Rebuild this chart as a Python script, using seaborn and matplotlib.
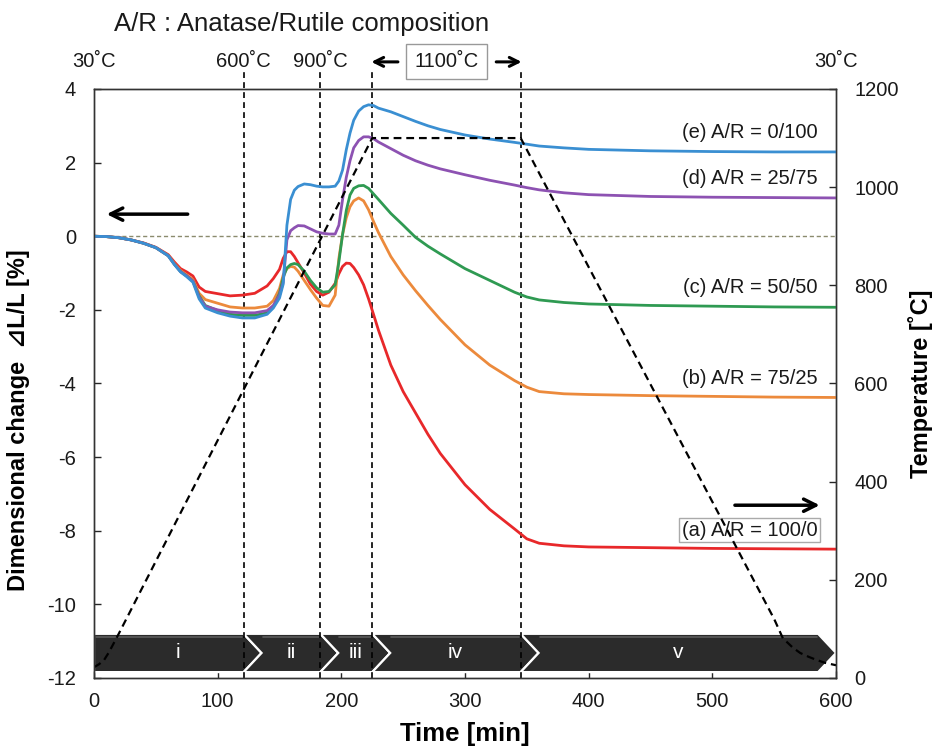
import numpy as np
import pandas as pd
import seaborn as sns
import matplotlib.pyplot as plt
from matplotlib.patches import Polygon

# time grid [min] shared by all dilatometer curves
time_min = [0, 10, 20, 30, 40, 50, 60, 65, 70, 75, 80, 85, 90, 100, 110, 120, 130, 140, 145,
            150, 153, 156, 159, 162, 165, 170, 175, 180, 185, 190, 195, 198, 201, 204, 207,
            210, 214, 218, 222, 226, 230, 240, 250, 260, 270, 280, 300, 320, 340, 350, 360,
            380, 400, 450, 500, 550, 600]

# dimensional change dL/L [%]
dl_a = [0, -0.01, -0.04, -0.1, -0.18, -0.3, -0.5, -0.7, -0.88, -0.97, -1.08, -1.38, -1.5, -1.56,
        -1.62, -1.6, -1.55, -1.35, -1.15, -0.9, -0.6, -0.42, -0.42, -0.55, -0.72, -1.0, -1.3,
        -1.5, -1.6, -1.52, -1.28, -1.02, -0.82, -0.73, -0.74, -0.85, -1.05, -1.32, -1.7, -2.12,
        -2.55, -3.5, -4.22, -4.8, -5.38, -5.9, -6.75, -7.42, -7.95, -8.22, -8.34, -8.41, -8.44,
        -8.46, -8.48, -8.49, -8.5]
dl_b = [0, -0.01, -0.04, -0.1, -0.19, -0.31, -0.52, -0.74, -0.93, -1.05, -1.18, -1.55, -1.72,
        -1.82, -1.92, -1.95, -1.95, -1.9, -1.75, -1.42, -1.05, -0.88, -0.82, -0.84, -0.95, -1.2,
        -1.45, -1.68, -1.88, -1.9, -1.6, -0.6, 0.05, 0.5, 0.8, 0.96, 1.04, 0.96, 0.72, 0.4,
        0.1, -0.55, -1.05, -1.48, -1.88, -2.26, -2.95, -3.5, -3.92, -4.1, -4.22, -4.28, -4.3,
        -4.33, -4.35, -4.37, -4.38]
dl_c = [0, -0.01, -0.04, -0.1, -0.19, -0.31, -0.53, -0.76, -0.96, -1.08, -1.22, -1.62, -1.88,
        -2.02, -2.12, -2.15, -2.15, -2.08, -1.92, -1.55, -1.12, -0.86, -0.77, -0.74, -0.77,
        -0.95, -1.2, -1.4, -1.52, -1.5, -1.32, -0.7, 0.05, 0.7, 1.12, 1.3, 1.37, 1.38, 1.3,
        1.15, 1.0, 0.62, 0.3, -0.03, -0.27, -0.48, -0.88, -1.2, -1.52, -1.65, -1.73, -1.8,
        -1.84, -1.88, -1.9, -1.92, -1.93]
dl_d = [0, -0.01, -0.04, -0.1, -0.19, -0.31, -0.53, -0.76, -0.96, -1.08, -1.22, -1.65, -1.9,
        -2.0, -2.06, -2.08, -2.08, -2.02, -1.88, -1.6, -1.25, -0.1, 0.15, 0.23, 0.29, 0.28, 0.2,
        0.12, 0.08, 0.06, 0.06, 0.3, 1.0, 1.6, 2.05, 2.4, 2.6, 2.7, 2.7, 2.65, 2.56, 2.38, 2.2,
        2.05, 1.93, 1.83, 1.67, 1.52, 1.39, 1.32, 1.26, 1.18, 1.13, 1.08, 1.06, 1.05, 1.04]
dl_e = [0, -0.01, -0.04, -0.1, -0.19, -0.31, -0.53, -0.77, -0.97, -1.1, -1.25, -1.7, -1.95,
        -2.08, -2.17, -2.22, -2.22, -2.12, -1.95, -1.68, -1.3, 0.3, 1.0, 1.25, 1.35, 1.42, 1.4,
        1.36, 1.34, 1.34, 1.36, 1.5, 1.8, 2.35, 2.8, 3.15, 3.4, 3.52, 3.57, 3.55, 3.48, 3.38,
        3.25, 3.12, 3.0, 2.9, 2.75, 2.64, 2.55, 2.5, 2.45, 2.4, 2.36, 2.32, 2.3, 2.29, 2.29]

series_names = ['(a) A/R = 100/0', '(b) A/R = 75/25', '(c) A/R = 50/50',
                '(d) A/R = 25/75', '(e) A/R = 0/100']
series_colors = ['#e8282a', '#ec8a3c', '#2f9a52', '#8d52b2', '#3a8fd2']

# furnace temperature program
temp_time = [0, 4, 8, 12, 20, 225, 345, 550, 557, 565, 571, 578, 584, 591, 600]
temp_c = [22, 28, 36, 52, 90, 1100, 1100, 120, 81, 62, 51, 43, 37, 31, 26]

phase_edges = [0, 121, 183, 225, 345, 600]
phase_names = ['i', 'ii', 'iii', 'iv', 'v']

sns.set_style('ticks')
plt.rcParams['font.family'] = ['Liberation Sans', 'DejaVu Sans', 'Noto Sans CJK JP']
plt.rcParams['axes.unicode_minus'] = False
plt.rcParams['xtick.direction'] = 'in'
plt.rcParams['ytick.direction'] = 'in'
plt.rcParams['text.color'] = '#1a1a1a'
plt.rcParams['axes.labelcolor'] = 'black'
plt.rcParams['xtick.labelcolor'] = '#1a1a1a'
plt.rcParams['ytick.labelcolor'] = '#1a1a1a'

fig = plt.figure(figsize=(9.38, 7.49), dpi=100)
ax = fig.add_axes([0.1002, 0.0948, 0.7911, 0.7864])
ax2 = ax.twinx()

df = pd.DataFrame({'time': time_min * 5,
                   'dl': dl_a + dl_b + dl_c + dl_d + dl_e,
                   'sample': np.repeat(series_names, len(time_min))})
for name, col in zip(series_names, series_colors):
    sub = df[df['sample'] == name]
    sns.lineplot(data=sub, x='time', y='dl', ax=ax, color=col, lw=2.0,
                 errorbar=None, zorder=3)

ax.axhline(0, color='#8b8b6e', lw=1.0, ls=(0, (3, 2)), zorder=2)
for t in phase_edges[1:-1]:
    ax.axvline(t, ymin=0, ymax=1.035, color='black', lw=1.2, ls=(0, (3.5, 2.5)),
               clip_on=False, zorder=2)

# process bar at the bottom
top, bot = -10.80, -11.84
mid = (top + bot) / 2
d = 14.5
for k, (s, e) in enumerate(zip(phase_edges[:-1], phase_edges[1:])):
    if k == len(phase_names) - 1:
        e = e - d
    pts = [(s, top), (e, top), (e + d, mid), (e, bot), (s, bot)]
    if k > 0:
        pts.append((s + d, mid))
    ax.add_patch(Polygon(pts, closed=True, fc='#2b2b2b', ec='white', lw=1.6, zorder=1))
    ax.plot([s + (d if k > 0 else 1) + 1, e - 1], [top - 0.09] * 2, color='#5c5c5c',
            lw=1.2, zorder=1.1)
    ax.text((s + e) / 2 + d / 2, mid, phase_names[k], color='white', fontsize=15,
            ha='center', va='center', zorder=1.2)

# temperature on right axis
sns.lineplot(x=temp_time, y=temp_c, ax=ax2, color='black', lw=1.6, errorbar=None)
ax2.lines[0].set_dashes([3.5, 2.2])

ax.set_xlim(0, 600)
ax.set_ylim(-12, 4)
ax2.set_ylim(0, 1200)
ax.set_xticks(range(0, 601, 100))
ax.set_yticks(range(-12, 5, 2))
ax2.set_yticks(range(0, 1201, 200))

for a in (ax, ax2):
    for sp in a.spines.values():
        sp.set_visible(True)
        sp.set_color('#333333')
        sp.set_linewidth(1.0)
ax.tick_params(axis='x', labelsize=14.5, length=5, width=1, pad=10, top=False)
ax.tick_params(axis='y', labelsize=14.5, length=5, width=1, pad=13, right=False)
ax2.tick_params(axis='y', labelsize=14.5, length=5, width=1, pad=13)

ax.set_xlabel('Time [min]', fontsize=18.5, fontweight='bold', labelpad=8)
ax.set_ylabel('Dimensional change  \u22bfL/L [%]', fontsize=17, fontweight='bold')
ax.yaxis.set_label_coords(-0.086, 0.438)
ax2.set_ylabel('Temperature [˚C]', fontsize=17, fontweight='bold')
ax2.yaxis.set_label_coords(1.097, 0.5)

# curve labels
label_y = [-7.99, -3.86, -1.38, 1.58, 2.83]
for k, (name, y) in enumerate(zip(series_names, label_y)):
    box = dict(boxstyle='square,pad=0.12', fc='white', ec='#aaaaaa', lw=1) if k == 0 else None
    ax.text(585, y, name, ha='right', va='center', fontsize=14.5, bbox=box, zorder=4)

# direction arrows
ax.annotate('', xy=(8, 0.6), xytext=(78, 0.6),
            arrowprops=dict(arrowstyle='->', lw=2.5, color='black', mutation_scale=22))
ax2.annotate('', xy=(589, 352), xytext=(516, 352),
             arrowprops=dict(arrowstyle='->', lw=2.5, color='black', mutation_scale=22))

# temperatures of the program steps above the frame
tr = ax.get_xaxis_transform()
yl = 1.046
for t, lab in [(0, '30˚C'), (121, '600˚C'), (183, '900˚C'), (600, '30˚C')]:
    ax.text(t, yl, lab, transform=tr, ha='center', va='center', fontsize=14.5)
ax.text(285, yl, '1100˚C', transform=tr, ha='center', va='center', fontsize=14.5,
        bbox=dict(boxstyle='square,pad=0.4', fc='white', ec='#999999', lw=1))
ax.annotate('', xy=(222, yl), xytext=(248, yl), xycoords=tr, textcoords=tr,
            arrowprops=dict(arrowstyle='->', lw=2.2, color='black', mutation_scale=16))
ax.annotate('', xy=(348, yl), xytext=(323, yl), xycoords=tr, textcoords=tr,
            arrowprops=dict(arrowstyle='->', lw=2.2, color='black', mutation_scale=16))

fig.text(0.122, 0.968, 'A/R : Anatase/Rutile composition', fontsize=18.5,
         ha='left', va='center')

fig.savefig('out.png', dpi=100)
